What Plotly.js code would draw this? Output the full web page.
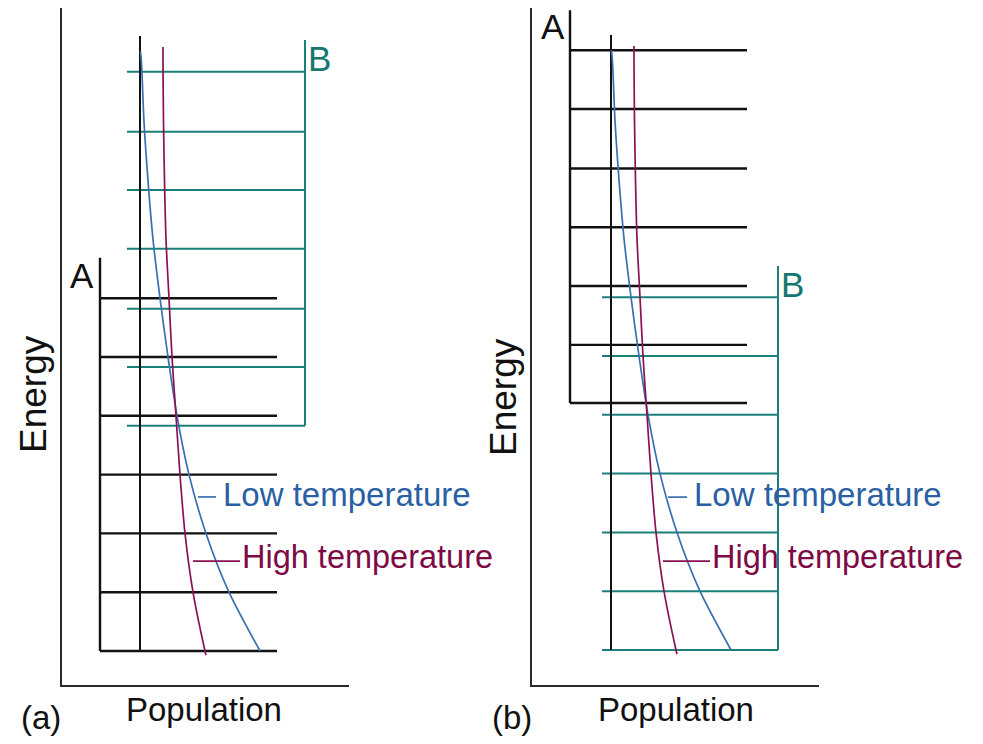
<!DOCTYPE html>
<html>
<head>
<meta charset="utf-8">
<script src="https://cdn.plot.ly/plotly-3.0.1.min.js"></script>
<style>html,body{margin:0;padding:0;background:#fff;}#chart{width:983px;height:744px;}</style>
</head>
<body>
<div id="chart"></div>
<script>
// ---- data (energy in level-spacing units, population in arbitrary units) ----
const panelNames = ["(a)", "(b)"];
const levelsA_a = [0, 1, 2, 3, 4, 5, 6];
const levelsB_a = [3.83, 4.83, 5.82, 6.84, 7.84, 8.83, 9.85];
const levelsA_b = [4.2, 5.19, 6.19, 7.19, 8.19, 9.2, 10.2];
const levelsB_b = [0, 1, 2, 3, 4, 5, 6];

const energyLowT = [0, 1, 2, 3, 4, 5, 6, 7, 8, 9, 10, 10.2];
const popLowT    = [120, 89, 66, 49, 37, 28, 20, 13, 8, 4, 1.5, 0.5];
const energyHighT = [-0.07, 0, 1, 2, 3, 4, 5, 6, 7, 8, 9, 10, 10.27];
const popHighT    = [66, 65, 53, 45, 40, 36, 32, 29, 26, 24.5, 23.5, 23, 23];

const curveLabels = ["Low temperature", "High temperature"];
const ladderLabels = ["A", "B"];
const axisLabels = {x: "Population", y: "Energy"};

// ---- styles ----
const BLACK = "#111111", TEAL = "#1b8079", BLUE = "#3a6fb0", CRIM = "#8a1252";
const BLUE_T = "#2a5fa3", CRIM_T = "#7d0a45", TEAL_T = "#167770";
const FONT = "Liberation Sans, Arial, sans-serif";

function ladder(levels, x0, x1, xv, overhang, color, width, xa, ya) {
  const xs = [], ys = [];
  levels.forEach(e => { xs.push(x0, x1, null); ys.push(e, e, null); });
  xs.push(xv, xv); ys.push(levels[0], levels[levels.length - 1] + overhang);
  return {x: xs, y: ys, xaxis: xa, yaxis: ya, mode: "lines", hoverinfo: "skip",
          line: {color: color, width: width}, showlegend: false};
}
function popAxis(xa, ya) {
  return {x: [0, 0], y: [0, 10.46], xaxis: xa, yaxis: ya, mode: "lines",
          line: {color: BLACK, width: 2}, showlegend: false, hoverinfo: "skip"};
}
function curve(x, y, color, xa, ya) {
  return {x: x, y: y, xaxis: xa, yaxis: ya, mode: "lines",
          line: {color: color, width: 1.7, shape: "spline", smoothing: 0.8},
          showlegend: false, hoverinfo: "skip"};
}

const traces = [
  ladder(levelsB_a, -13, 165, 165, 0.54, TEAL, 2, "x", "y"),
  ladder(levelsA_a, -40, 137, -40, 0.69, BLACK, 2.4, "x", "y"),
  popAxis("x", "y"),
  curve(popLowT, energyLowT, BLUE, "x", "y"),
  curve(popHighT, energyHighT, CRIM, "x", "y"),

  ladder(levelsB_b, -9, 167, 167, 0.53, TEAL, 2, "x2", "y2"),
  ladder(levelsA_b, -41, 136, -41, 0.68, BLACK, 2.4, "x2", "y2"),
  popAxis("x2", "y2"),
  curve(popLowT, energyLowT, BLUE, "x2", "y2"),
  curve(popHighT, energyHighT, CRIM, "x2", "y2")
];

const W = 983, H = 744;
const frameAxis = {showline: true, linecolor: "#2a2a2a", linewidth: 2, showgrid: false,
                   zeroline: false, showticklabels: false, ticks: "", fixedrange: true};
const yDom = [1 - 685 / H, 1 - 8 / H];

const annotations = [];
const shapes = [];
function addPanel(xa, ya, bLabelPos, aLabelPos, lowE, highE, lowTick, highTick) {
  const xr = xa, yr = ya;
  annotations.push(
    {xref: xr, yref: yr, x: aLabelPos[0], y: aLabelPos[1], text: ladderLabels[0], showarrow: false,
     font: {family: FONT, size: 35, color: BLACK}, xanchor: "center", yanchor: "middle"},
    {xref: xr, yref: yr, x: bLabelPos[0], y: bLabelPos[1], text: ladderLabels[1], showarrow: false,
     font: {family: FONT, size: 35, color: TEAL_T}, xanchor: "center", yanchor: "middle"},
    {xref: xr, yref: yr, x: lowTick[1] + 5, y: lowE, text: curveLabels[0], showarrow: false,
     font: {family: FONT, size: 33, color: BLUE_T}, xanchor: "left", yanchor: "middle"},
    {xref: xr, yref: yr, x: highTick[1] + 0, y: highE, text: curveLabels[1], showarrow: false,
     font: {family: FONT, size: 32.5, color: CRIM_T}, xanchor: "left", yanchor: "middle"}
  );
  shapes.push(
    {type: "line", xref: xr, yref: yr, x0: lowTick[0], x1: lowTick[1], y0: lowTick[2], y1: lowTick[2],
     line: {color: BLUE, width: 1.7}},
    {type: "line", xref: xr, yref: yr, x0: highTick[0], x1: highTick[1], y0: highTick[2], y1: highTick[2],
     line: {color: CRIM, width: 1.7}}
  );
}
addPanel("x", "y", [179, 10.07], [-58, 6.38], 2.67, 1.6, [58, 76, 2.62], [53, 100, 1.53]);
addPanel("x2", "y2", [181, 6.21], [-58, 10.6], 2.65, 1.58, [57, 76, 2.6], [52, 99, 1.51]);

// axis titles and panel letters (paper coords)
function pt(px, py) { return [px / W, 1 - py / H]; }
const popPos = [pt(204, 709), pt(676, 709)];
const enPos = [pt(33, 394), pt(503, 397)];
const letPos = [pt(41, 717), pt(512, 717)];
for (let i = 0; i < 2; i++) {
  annotations.push(
    {xref: "paper", yref: "paper", x: popPos[i][0], y: popPos[i][1], text: axisLabels.x, showarrow: false,
     font: {family: FONT, size: 33, color: BLACK}, xanchor: "center", yanchor: "middle"},
    {xref: "paper", yref: "paper", x: enPos[i][0], y: enPos[i][1], text: axisLabels.y, showarrow: false,
     textangle: -90, font: {family: FONT, size: 37, color: BLACK},
     xanchor: "center", yanchor: "middle"},
    {xref: "paper", yref: "paper", x: letPos[i][0], y: letPos[i][1], text: panelNames[i], showarrow: false,
     font: {family: FONT, size: 33, color: BLACK}, xanchor: "center", yanchor: "middle"}
  );
}

const layout = {
  width: W, height: H, margin: {l: 0, r: 0, t: 0, b: 0},
  paper_bgcolor: "#ffffff", plot_bgcolor: "rgba(0,0,0,0)", showlegend: false,
  xaxis: Object.assign({}, frameAxis, {domain: [62 / W, 349 / W], range: [-78, 209], anchor: "y"}),
  yaxis: Object.assign({}, frameAxis, {domain: yDom, range: [(651 - 685) / 58.8, (651 - 8) / 58.8], anchor: "x"}),
  xaxis2: Object.assign({}, frameAxis, {domain: [532 / W, 819 / W], range: [-79, 208], anchor: "y2"}),
  yaxis2: Object.assign({}, frameAxis, {domain: yDom, range: [(650 - 685) / 58.8, (650 - 8) / 58.8], anchor: "x2"}),
  annotations: annotations, shapes: shapes
};

Plotly.newPlot("chart", traces, layout, {displayModeBar: false, staticPlot: true});
</script>
</body>
</html>
